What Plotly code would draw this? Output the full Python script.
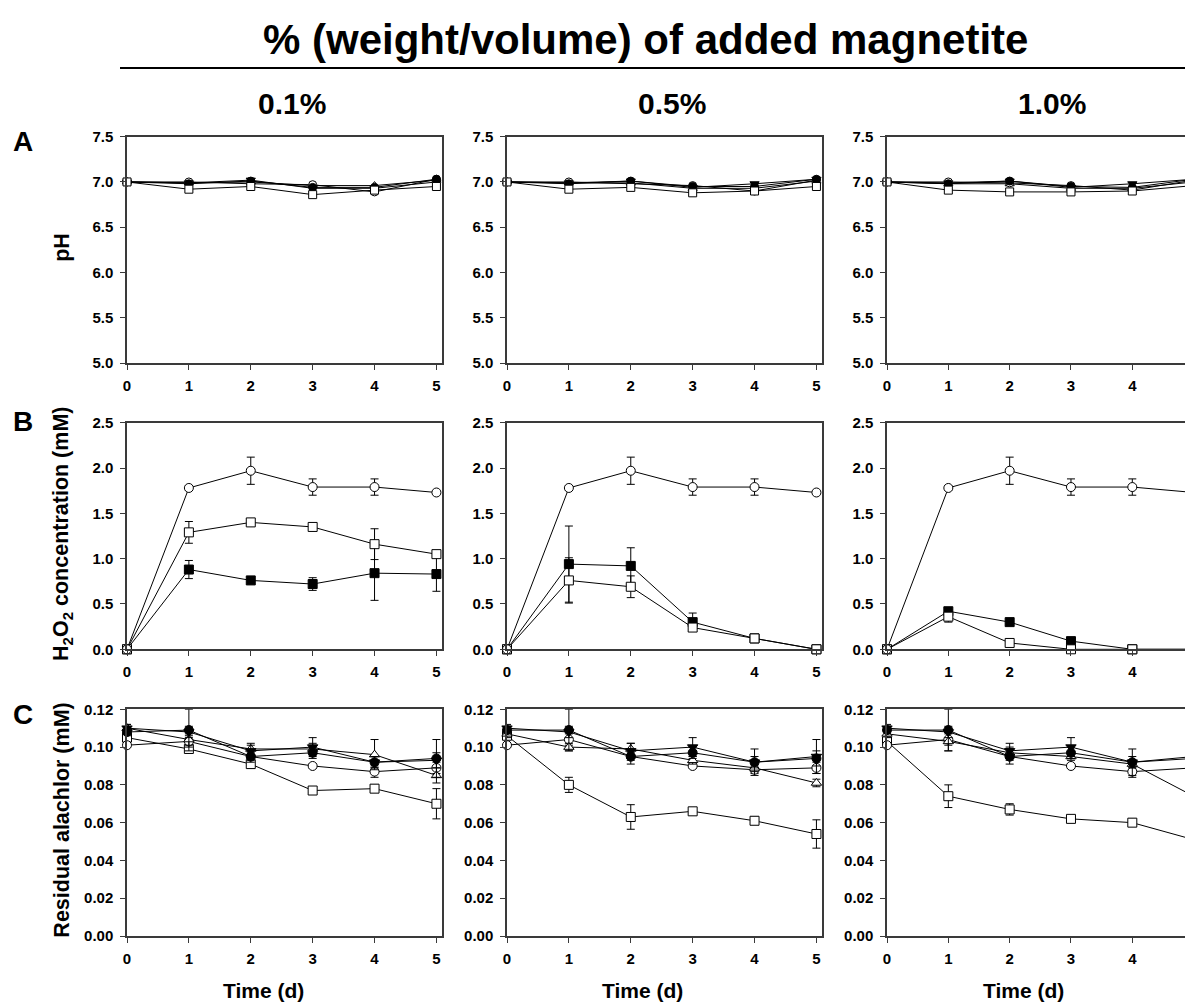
import plotly.graph_objects as go

# ---------------- data ----------------
days = [0, 1, 2, 3, 4, 5]
doses = ["0.1%", "0.5%", "1.0%"]
row_letters = ["A", "B", "C"]
x_ticks = [0, 1, 2, 3, 4, 5]
ph_ticks = [5.0, 5.5, 6.0, 6.5, 7.0, 7.5]
h2o2_ticks = [0.0, 0.5, 1.0, 1.5, 2.0, 2.5]
ala_ticks = [0.00, 0.02, 0.04, 0.06, 0.08, 0.10, 0.12]

# Panel A: pH (per magnetite dose column)
ph_filled_circle = [[7.00, 6.98, 7.01, 6.94, 6.94, 7.03], [7.00, 6.98, 7.01, 6.95, 6.95, 7.03], [7.00, 6.98, 7.01, 6.95, 6.94, 7.03]]
ph_open_circle = [[7.00, 7.00, 6.98, 6.97, 6.89, 7.03], [7.00, 7.00, 6.98, 6.96, 6.90, 7.02], [7.00, 7.00, 6.99, 6.96, 6.91, 7.02]]
ph_filled_tri = [[7.00, 6.99, 7.02, 6.93, 6.93, 7.00], [7.00, 6.99, 7.01, 6.94, 6.98, 7.03], [7.00, 6.99, 7.01, 6.94, 6.98, 7.03]]
ph_open_tri = [[7.00, 6.99, 7.00, 6.96, 6.96, 7.02], [7.00, 6.99, 6.99, 6.93, 6.93, 7.01], [7.00, 6.98, 6.98, 6.93, 6.93, 7.00]]
ph_open_square = [[7.00, 6.92, 6.95, 6.86, 6.91, 6.95], [7.00, 6.92, 6.94, 6.88, 6.90, 6.95], [7.00, 6.91, 6.89, 6.89, 6.90, 6.96]]

# Panel B: H2O2 concentration (mM)
h2o2_open_circle = [[0, 1.78, 1.97, 1.79, 1.79, 1.73]] * 3
h2o2_open_circle_err = [[0, 0.02, 0.15, 0.09, 0.09, 0.02]] * 3
h2o2_open_square = [[0, 1.29, 1.40, 1.35, 1.16, 1.05], [0, 0.76, 0.69, 0.24, 0.12, 0.00], [0, 0.36, 0.07, 0.00, 0.00, 0.00]]
h2o2_open_square_err = [[0, 0.12, 0.02, 0.03, 0.17, 0.02], [0, 0.25, 0.12, 0.02, 0.02, 0], [0, 0.06, 0.01, 0, 0, 0]]
h2o2_filled_square = [[0, 0.88, 0.76, 0.72, 0.84, 0.83], [0, 0.94, 0.92, 0.30, 0.12, 0.00], [0, 0.42, 0.30, 0.09, 0.00, 0.00]]
h2o2_filled_square_err = [[0, 0.10, 0.02, 0.07, 0.30, 0.19], [0, 0.42, 0.20, 0.10, 0.02, 0], [0, 0.02, 0.02, 0.02, 0, 0]]

# Panel C: residual alachlor (mM)
ala_filled_circle = [[0.108, 0.109, 0.095, 0.097, 0.092, 0.094], [0.109, 0.109, 0.095, 0.097, 0.092, 0.094], [0.109, 0.109, 0.095, 0.097, 0.092, 0.094]]
ala_filled_circle_err = [[0.002, 0.011, 0.003, 0.003, 0.003, 0.010], [0.002, 0.011, 0.004, 0.003, 0.003, 0.004], [0.002, 0.011, 0.004, 0.003, 0.003, 0.004]]
ala_open_circle = [[0.101, 0.103, 0.095, 0.090, 0.087, 0.089], [0.101, 0.104, 0.095, 0.090, 0.088, 0.089], [0.101, 0.104, 0.095, 0.090, 0.087, 0.089]]
ala_open_circle_err = [[0.001, 0.003, 0.002, 0.001, 0.003, 0.003], [0.001, 0.003, 0.002, 0.001, 0.002, 0.003], [0.001, 0.003, 0.002, 0.001, 0.003, 0.003]]
ala_filled_tri = [[0.110, 0.108, 0.098, 0.100, 0.092, 0.093], [0.110, 0.108, 0.098, 0.100, 0.092, 0.095], [0.110, 0.108, 0.098, 0.100, 0.092, 0.095]]
ala_filled_tri_err = [[0.002, 0.003, 0.003, 0.005, 0.003, 0.004], [0.002, 0.003, 0.004, 0.005, 0.007, 0.009], [0.002, 0.003, 0.004, 0.005, 0.007, 0.009]]
ala_open_tri = [[0.110, 0.104, 0.099, 0.099, 0.096, 0.085], [0.107, 0.100, 0.099, 0.093, 0.089, 0.081], [0.107, 0.103, 0.097, 0.095, 0.091, 0.074]]
ala_open_tri_err = [[0.002, 0.003, 0.003, 0.003, 0.008, 0.004], [0.002, 0.002, 0.003, 0.002, 0.002, 0.002], [0.002, 0.005, 0.003, 0.002, 0.002, 0.006]]
ala_open_square = [[0.105, 0.099, 0.091, 0.077, 0.078, 0.070], [0.106, 0.080, 0.063, 0.066, 0.061, 0.054], [0.103, 0.074, 0.067, 0.062, 0.060, 0.051]]
ala_open_square_err = [[0.002, 0.002, 0.002, 0.001, 0.002, 0.008], [0.002, 0.004, 0.0065, 0.001, 0.002, 0.0075], [0.002, 0.006, 0.003, 0.001, 0.002, 0.002]]

# ---------------- layout geometry (screen pixels) ----------------
W, H = 1193, 1002
OFF = 8  # page body margin offset
col_px = [(127, 442), (507, 822), (887, 1202)]
col_xmax = [5.09, 5.09, 5.12]
row_px = [(136.7, 363.0), (422.7, 649.3), (709.3, 936.0)]
header_x = [292, 672, 1052]
time_label_x = [263, 642.5, 1023]
letter_y = [141, 421, 714]


def px(x):
    return (x - OFF) / W


def py(y):
    return 1 - (y - OFF) / H


FONT = "Arial, Liberation Sans, Helvetica, sans-serif"
BLACK = "black"
AXC = "#3a3a3a"

STYLE = {
    "filled_circle": dict(symbol="circle", color=BLACK),
    "open_circle": dict(symbol="circle", color="white"),
    "filled_tri": dict(symbol="triangle-down", color=BLACK),
    "open_tri": dict(symbol="triangle-up", color="white"),
    "open_square": dict(symbol="square", color="white"),
    "filled_square": dict(symbol="square", color=BLACK),
}

fig = go.Figure()


def add_series(k, name, vals, errs, style_key, size=9):
    st = STYLE[style_key]
    ax = "" if k == 1 else str(k)
    fig.add_trace(go.Scatter(
        x=days, y=vals, mode="lines+markers", name=name,
        xaxis="x" + ax, yaxis="y" + ax, showlegend=False, cliponaxis=False,
        line=dict(color=BLACK, width=1),
        marker=dict(symbol=st["symbol"], size=size, color=st["color"],
                    line=dict(color=BLACK, width=1)),
        error_y=(dict(type="data", array=errs, visible=True, color=BLACK,
                      thickness=1, width=4) if errs is not None else None),
    ))


for c in range(3):
    k = 0 * 3 + c + 1
    add_series(k, "open triangle", ph_open_tri[c], None, "open_tri", 8)
    add_series(k, "filled triangle", ph_filled_tri[c], None, "filled_tri", 8)
    add_series(k, "open circle", ph_open_circle[c], None, "open_circle", 8)
    add_series(k, "filled circle", ph_filled_circle[c], None, "filled_circle", 8)
    add_series(k, "open square", ph_open_square[c], None, "open_square", 8)
    k = 1 * 3 + c + 1
    add_series(k, "filled square", h2o2_filled_square[c], h2o2_filled_square_err[c], "filled_square")
    add_series(k, "open square", h2o2_open_square[c], h2o2_open_square_err[c], "open_square")
    add_series(k, "open circle", h2o2_open_circle[c], h2o2_open_circle_err[c], "open_circle")
    k = 2 * 3 + c + 1
    add_series(k, "open square", ala_open_square[c], ala_open_square_err[c], "open_square")
    add_series(k, "open circle", ala_open_circle[c], ala_open_circle_err[c], "open_circle")
    add_series(k, "open triangle", ala_open_tri[c], ala_open_tri_err[c], "open_tri")
    add_series(k, "filled triangle", ala_filled_tri[c], ala_filled_tri_err[c], "filled_tri")
    add_series(k, "filled circle", ala_filled_circle[c], ala_filled_circle_err[c], "filled_circle")

row_y = [
    dict(range=[5.0, 7.5], tickvals=ph_ticks, ticktext=["%.1f" % v for v in ph_ticks]),
    dict(range=[0.0, 2.5], tickvals=h2o2_ticks, ticktext=["%.1f" % v for v in h2o2_ticks]),
    dict(range=[0.0, 0.12], tickvals=ala_ticks, ticktext=["%.2f" % v for v in ala_ticks]),
]
row_titles = ["pH", "H<sub>2</sub>O<sub>2</sub> concentration (mM)", "Residual alachlor (mM)"]

tickfont = dict(family=FONT, size=15, color=BLACK, weight="bold")
layout = {}
for r in range(3):
    for c in range(3):
        k = r * 3 + c + 1
        ax = "" if k == 1 else str(k)
        x0, x1 = col_px[c]
        y0, y1 = row_px[r]
        layout["xaxis" + ax] = dict(
            domain=[px(x0), min(px(x1), 1.0)], anchor="y" + ax, range=[0, col_xmax[c]],
            tickvals=x_ticks, ticks="outside", ticklen=5, tickwidth=1, tickcolor=AXC,
            showline=True, linecolor=AXC, linewidth=1.5, mirror=True, automargin=False,
            showgrid=False, zeroline=False, tickfont=tickfont, ticklabelstandoff=3,
        )
        layout["yaxis" + ax] = dict(
            domain=[py(y1), py(y0)], anchor="x" + ax,
            ticks="outside", ticklen=5, tickwidth=1, tickcolor=AXC,
            showline=True, linecolor=AXC, linewidth=1.5, mirror=True, automargin=False,
            showgrid=False, zeroline=False, tickfont=tickfont, ticklabelstandoff=4,
            **row_y[r],
        )

annotations = [
    dict(text="% (weight/volume) of added magnetite", x=px(645), y=py(39),
         xref="paper", yref="paper", showarrow=False, xanchor="center", yanchor="middle",
         font=dict(family=FONT, size=42, color=BLACK, weight="bold")),
]
for c in range(3):
    annotations.append(dict(text=doses[c], x=px(header_x[c]), y=py(104), xref="paper", yref="paper",
                            showarrow=False, xanchor="center", yanchor="middle",
                            font=dict(family=FONT, size=30, color=BLACK, weight="bold")))
    annotations.append(dict(text="Time (d)", x=px(time_label_x[c]), y=py(990), xref="paper", yref="paper",
                            showarrow=False, xanchor="center", yanchor="middle",
                            font=dict(family=FONT, size=21, color=BLACK, weight="bold")))
for r in range(3):
    annotations.append(dict(text=row_letters[r], x=px(23), y=py(letter_y[r]), xref="paper", yref="paper",
                            showarrow=False, xanchor="center", yanchor="middle",
                            font=dict(family=FONT, size=28, color=BLACK, weight="bold")))
    cy = (row_px[r][0] + row_px[r][1]) / 2
    annotations.append(dict(text=row_titles[r], x=px(62), y=py(cy - 2), xref="paper", yref="paper",
                            showarrow=False, xanchor="center", yanchor="middle", textangle=-90,
                            font=dict(family=FONT, size=21.5, color=BLACK, weight="bold")))

fig.update_layout(
    width=W, height=H, autosize=False,
    margin=dict(l=0, r=0, t=0, b=0, pad=0),
    paper_bgcolor="white", plot_bgcolor="white",
    annotations=annotations,
    shapes=[dict(type="line", xref="paper", yref="paper", x0=px(120), x1=1.0,
                 y0=py(68), y1=py(68), line=dict(color=BLACK, width=2))],
    **layout,
)

fig.write_html("out.html")
